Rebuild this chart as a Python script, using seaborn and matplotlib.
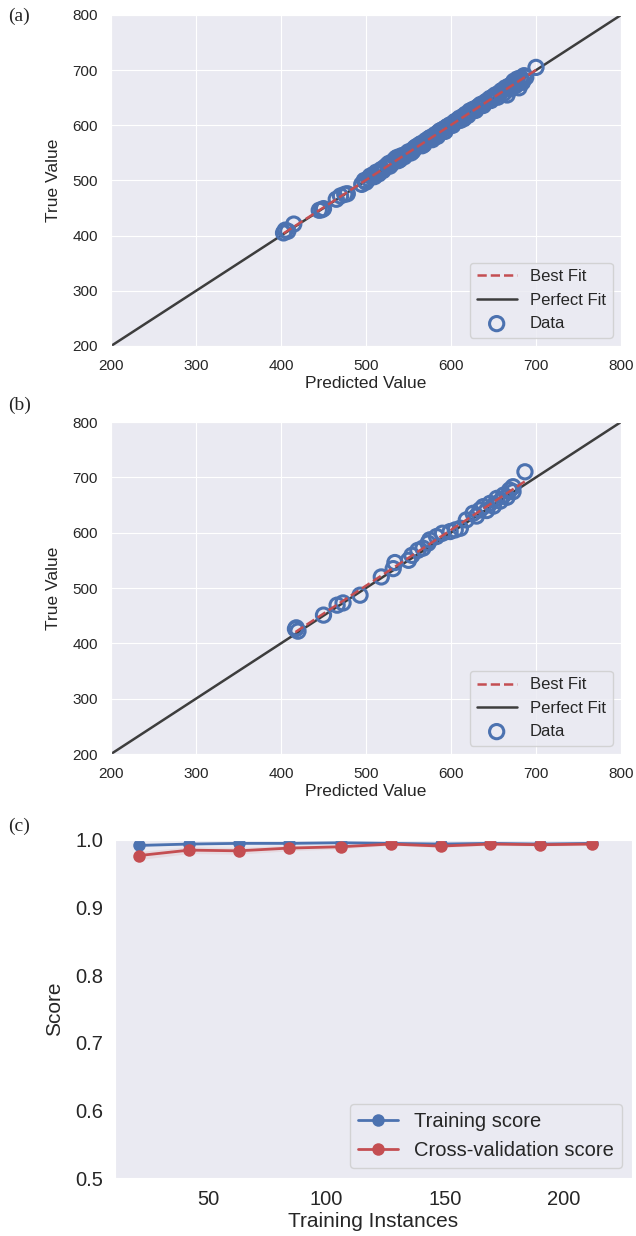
import numpy as np
import pandas as pd
import matplotlib
matplotlib.use("Agg")
import matplotlib.pyplot as plt
import seaborn as sns

# ------------------------
#  Data
# ------------------------

# (a) predicted vs true values
pred_a = [403, 405, 408, 415, 445, 448, 450, 465, 470, 475, 478, 495, 498, 500,
          503, 508, 512, 515, 518, 522, 525, 528, 532, 535, 538, 542, 545, 550,
          553, 556, 560, 563, 566, 570, 573, 576, 578, 581, 584, 587, 590, 593,
          596, 599, 602, 605, 608, 611, 614, 617, 620, 623, 626, 629, 632, 635,
          638, 641, 644, 647, 650, 652, 655, 658, 660, 662, 664, 666, 668, 670,
          672, 674, 676, 678, 680, 682, 684, 686, 700,
          505, 510, 520, 527, 530, 537, 540, 548, 555, 558, 565, 568, 575, 580,
          585, 592, 595, 604, 610, 615, 622, 628, 634, 640, 646, 654, 659, 665,
          671, 677, 683, 688]
true_a = [405, 410, 408, 421, 446, 447, 449, 466, 472, 475, 476, 493, 500, 497,
          503, 510, 515, 512, 520, 524, 528, 526, 535, 540, 536, 545, 543, 552,
          550, 557, 562, 565, 563, 572, 575, 578, 574, 583, 580, 590, 592, 589,
          598, 601, 600, 607, 610, 609, 616, 620, 618, 625, 629, 627, 634, 638,
          636, 643, 646, 645, 652, 655, 651, 660, 663, 658, 668, 655, 671, 666,
          675, 680, 672, 684, 668, 686, 678, 690, 705,
          508, 507, 518, 531, 530, 542, 538, 549, 553, 560, 567, 565, 577, 579,
          587, 594, 597, 606, 613, 612, 626, 630, 636, 641, 649, 656, 662, 667,
          673, 678, 682, 687]

# (b) predicted vs true values
pred_b = [417, 418, 420, 450, 466, 473, 493, 518, 532, 534, 550, 554, 561, 567,
          573, 575, 583, 590, 599, 605, 611, 618, 626, 630, 634, 638, 642, 646,
          650, 654, 658, 662, 666, 669, 673, 673, 687]
true_b = [426, 428, 422, 451, 469, 473, 487, 520, 535, 546, 550, 559, 568, 572,
          581, 587, 593, 599, 602, 605, 608, 623, 635, 630, 641, 647, 640, 653,
          648, 662, 657, 668, 664, 677, 674, 683, 710]

axis_range = [200, 800]
axis_ticks = [200, 300, 400, 500, 600, 700, 800]

# (c) learning curve
train_sizes = [21, 42, 63, 84, 106, 127, 148, 169, 190, 212]
train_scores = [0.992, 0.994, 0.995, 0.995, 0.996, 0.995, 0.994, 0.995, 0.994, 0.995]
train_std = [0.002, 0.001, 0.001, 0.001, 0.001, 0.001, 0.001, 0.001, 0.001, 0.001]
cv_scores = [0.977, 0.985, 0.984, 0.988, 0.990, 0.994, 0.991, 0.994, 0.993, 0.994]
cv_std = [0.006, 0.005, 0.005, 0.004, 0.003, 0.002, 0.002, 0.002, 0.002, 0.002]
size_ticks = [50, 100, 150, 200]

# ------------------------
#  Style
# ------------------------
sns.set_style("darkgrid")
plt.rcParams['font.family'] = ['Liberation Sans', 'DejaVu Sans']

blue = "#4C72B0"
red = "#C44E52"
grey = "#3d3d3d"

fig = plt.figure(figsize=(6.36, 12.36), dpi=100)


def fit_panel(ax, pred, true):
    # best fit (regression line from data)
    sns.regplot(x=np.array(pred), y=np.array(true), scatter=False, ci=None,
                ax=ax, label="Best Fit",
                line_kws=dict(color=red, ls="--", lw=1.8, zorder=4))
    # perfect fit (identity)
    ax.plot(axis_range, axis_range, color=grey, lw=1.8, label="Perfect Fit", zorder=2)
    ax.scatter(pred, true, s=105, facecolors="none", edgecolors=blue,
               linewidths=2.2, label="Data", zorder=3)
    ax.set_xlim(axis_range)
    ax.set_ylim(axis_range)
    ax.set_xticks(axis_ticks)
    ax.set_yticks(axis_ticks)
    ax.tick_params(labelsize=11, pad=6)
    ax.set_xlabel("Predicted Value", fontsize=12.5, labelpad=2)
    ax.set_ylabel("True Value", fontsize=12.5, labelpad=8)
    ax.legend(loc="lower right", fontsize=12, handlelength=2.4)


ax_a = fig.add_axes([111 / 636, 1 - 346 / 1236, 510 / 636, 331 / 1236])
fit_panel(ax_a, pred_a, true_a)

ax_b = fig.add_axes([111 / 636, 1 - 754 / 1236, 510 / 636, 332 / 1236])
fit_panel(ax_b, pred_b, true_b)

# (c) learning curve
ax_c = fig.add_axes([115 / 636, 1 - 1178 / 1236, 517 / 636, 338 / 1236])
lo_t = np.array(train_scores) - np.array(train_std)
hi_t = np.array(train_scores) + np.array(train_std)
lo_c = np.array(cv_scores) - np.array(cv_std)
hi_c = np.array(cv_scores) + np.array(cv_std)
ax_c.fill_between(train_sizes, lo_t, hi_t, color=blue, alpha=0.1, lw=0)
ax_c.fill_between(train_sizes, lo_c, hi_c, color=red, alpha=0.1, lw=0)
sns.lineplot(x=train_sizes, y=train_scores, ax=ax_c, color=blue, marker="o",
             markersize=9, markeredgewidth=0, lw=2, label="Training score")
sns.lineplot(x=train_sizes, y=cv_scores, ax=ax_c, color=red, marker="o",
             markersize=9, markeredgewidth=0, lw=2, label="Cross-validation score")
ax_c.grid(False)
ax_c.set_ylim(0.5, 1.0)
ax_c.set_xlim(10.8, 228.7)
ax_c.set_xticks(size_ticks)
ax_c.tick_params(labelsize=14.5, pad=5)
ax_c.set_xlabel("Training Instances", fontsize=15, labelpad=2)
ax_c.set_ylabel("Score", fontsize=15, labelpad=8)
ax_c.legend(loc="lower right", fontsize=14.5, handlelength=2)

# panel letters
for y, letter in [(16, "(a)"), (405, "(b)"), (826, "(c)")]:
    fig.text(8 / 636, 1 - y / 1236, letter, fontsize=14,
             family=["Liberation Serif", "DejaVu Serif"], va="center", ha="left")

fig.savefig("out.png", dpi=100)
